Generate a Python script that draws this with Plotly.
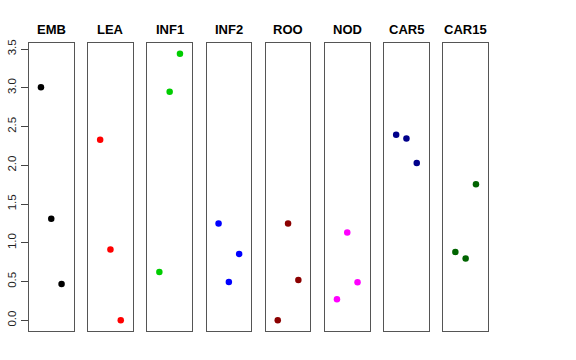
import plotly.graph_objects as go

groups = ["EMB", "LEA", "INF1", "INF2", "ROO", "NOD", "CAR5", "CAR15"]
colors = ["black", "red", "#00CD00", "blue", "#8B0000", "magenta", "#00008B", "#006400"]
x_pos = [1, 2, 3]
values = {
    "EMB":   [3.006, 1.309, 0.469],
    "LEA":   [2.330, 0.913, 0.000],
    "INF1":  [0.624, 2.950, 3.440],
    "INF2":  [1.249, 0.495, 0.857],
    "ROO":   [0.000, 1.249, 0.521],
    "NOD":   [0.271, 1.133, 0.491],
    "CAR5":  [2.394, 2.347, 2.028],
    "CAR15": [0.883, 0.797, 1.757],
}
y_ticks = [0.0, 0.5, 1.0, 1.5, 2.0, 2.5, 3.0, 3.5]

W, H = 576, 360
allv = [v for g in groups for v in values[g]]
ymin, ymax = min(allv), max(allv)
pad = 0.04 * (ymax - ymin)
yr = [ymin - pad, ymax + pad]
xr = [0 - 0.16, 4 + 0.16]

fig = go.Figure()
left0, step, pw = 29.0, 59.2, 44.5
top, bottom = 43.0, 331.0
annotations = []
for i, g in enumerate(groups):
    l = left0 + i * step
    r = l + pw
    xa = "xaxis" if i == 0 else f"xaxis{i+1}"
    ya = "yaxis" if i == 0 else f"yaxis{i+1}"
    xs = "x" if i == 0 else f"x{i+1}"
    ys = "y" if i == 0 else f"y{i+1}"
    fig.add_trace(go.Scatter(x=x_pos, y=values[g], mode="markers", xaxis=xs, yaxis=ys,
                             marker=dict(color=colors[i], size=6.5), showlegend=False))
    fig.layout[xa] = dict(domain=[l / W, r / W], range=xr, showgrid=False, zeroline=False,
                          showticklabels=False, ticks="", showline=True, mirror=True,
                          linecolor="#555", linewidth=1, fixedrange=True, anchor=ys,
                          automargin=False)
    yax = dict(domain=[1 - bottom / H, 1 - top / H], range=yr, showgrid=False, zeroline=False,
               showline=True, mirror=True, linecolor="#555", linewidth=1, anchor=xs,
               automargin=False)
    if i == 0:
        yax.update(tickvals=y_ticks, ticktext=[f"{t:.1f}" for t in y_ticks], ticks="outside",
                   ticklen=7, tickcolor="#444", tickangle=-90,
                   tickfont=dict(family="Liberation Sans, Arial", size=11.5, color="#222"))
    else:
        yax.update(showticklabels=False, ticks="")
    fig.layout[ya] = yax
    annotations.append(dict(text=f"<b>{g}</b>", x=(l + r) / 2 / W, y=1 - 29 / H,
                            xref="paper", yref="paper", showarrow=False, xanchor="center",
                            yanchor="middle",
                            font=dict(family="Liberation Sans, Arial", size=13, color="black")))

fig.update_layout(width=W, height=H, margin=dict(l=0, r=0, t=0, b=0, autoexpand=False),
                  paper_bgcolor="white", plot_bgcolor="white", annotations=annotations)
fig.write_html("out.html", config={"displayModeBar": False},
               post_script="document.body.style.margin='0';document.body.style.overflow='hidden';")
